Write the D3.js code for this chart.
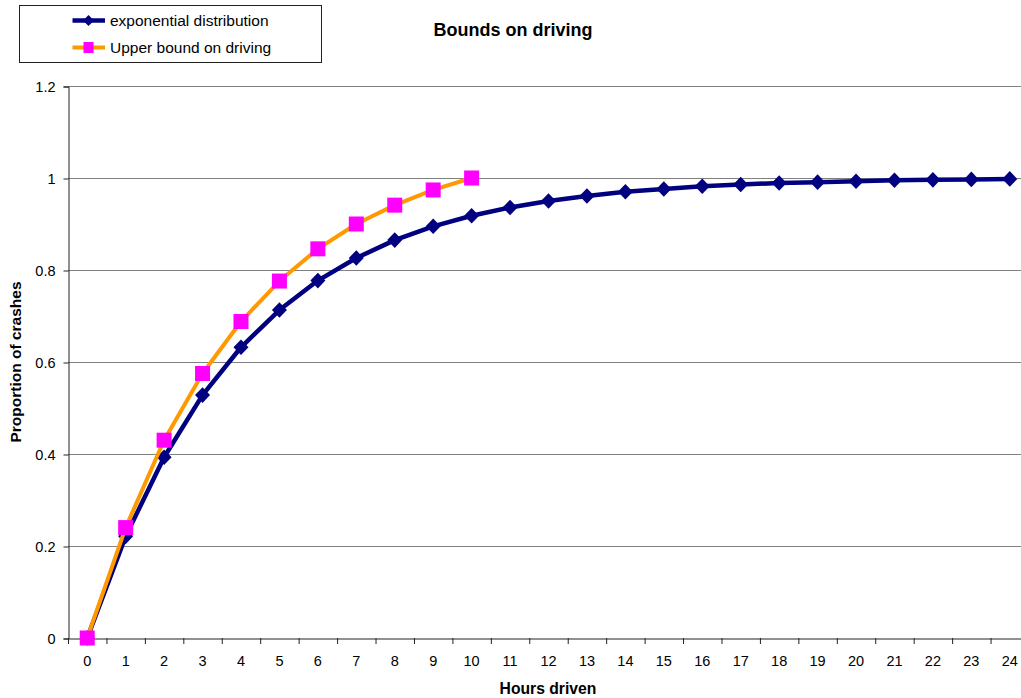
<!DOCTYPE html>
<html><head><meta charset="utf-8">
<script src="https://cdn.jsdelivr.net/npm/d3@7"></script>
<style>body{margin:0;background:#fff;} svg{display:block;font-family:"Liberation Sans",Arial,sans-serif;}</style>
</head><body>
<svg id="c" width="1021" height="698"></svg>
<script>
const categories = [0,1,2,3,4,5,6,7,8,9,10,11,12,13,14,15,16,17,18,19,20,21,22,23,24];
const exponentialValues = [0,0.221,0.393,0.528,0.632,0.713,0.777,0.826,0.865,0.895,0.918,0.936,0.950,0.961,0.970,0.976,0.982,0.986,0.989,0.991,0.993,0.995,0.996,0.997,0.998];
const upperBoundValues = [0,0.24,0.43,0.575,0.688,0.776,0.846,0.90,0.941,0.974,1.0];
const yTicks = [0,0.2,0.4,0.6,0.8,1,1.2];
const seriesNames = ["exponential distribution","Upper bound on driving"];

const FONT = "Liberation Sans, Arial, sans-serif";
const svg = d3.select("#c");
const x = d3.scaleBand().domain(categories).range([68,1029]).padding(0);
const y = d3.scaleLinear().domain([0,1.2]).range([638,86]);

// gridlines
svg.append("g").selectAll("line").data(yTicks.filter(d=>d>0)).join("line")
  .attr("x1",68).attr("x2",1030).attr("y1",d=>y(d)+0.5).attr("y2",d=>y(d)+0.5)
  .attr("stroke","#808080").attr("stroke-width",1);

// y axis
const yAxis = svg.append("g").attr("transform","translate(68.5,0.5)")
  .call(d3.axisLeft(y).tickValues(yTicks).tickSize(5).tickPadding(8).tickFormat(d=>String(d)));
yAxis.select(".domain").attr("stroke","#222");
yAxis.selectAll(".tick line").attr("stroke","#222");
yAxis.selectAll("text").attr("font-size",14.5).attr("fill","#000").attr("font-family",FONT);

// x axis
const xAxis = svg.append("g").attr("transform","translate(0,638.5)")
  .call(d3.axisBottom(x).tickSize(0).tickPadding(17));
xAxis.select(".domain").attr("stroke","#222");
xAxis.selectAll("text").attr("font-size",14.5).attr("fill","#000").attr("font-family",FONT);
// category separator ticks
svg.append("g").selectAll("line").data(categories.concat([25])).join("line")
  .attr("x1",(d,i)=>68.5+i*x.bandwidth()).attr("x2",(d,i)=>68.5+i*x.bandwidth())
  .attr("y1",638).attr("y2",644).attr("stroke","#222");

const cx = d=>x(d)+x.bandwidth()/2;
const line = d3.line().x((d,i)=>cx(categories[i])).y(d=>y(d));

// exponential series
svg.append("path").datum(exponentialValues).attr("d",line)
  .attr("fill","none").attr("stroke","#000080").attr("stroke-width",4.5).attr("stroke-linejoin","round");
svg.append("g").selectAll("path").data(exponentialValues).join("path")
  .attr("transform",(d,i)=>`translate(${cx(categories[i])},${y(d)})`)
  .attr("d","M0,-7.8L7.5,0L0,7.8L-7.5,0Z").attr("fill","#000080");

// upper bound series
svg.append("path").datum(upperBoundValues).attr("d",line)
  .attr("fill","none").attr("stroke","#FF9900").attr("stroke-width",4).attr("stroke-linejoin","round");
svg.append("g").selectAll("rect").data(upperBoundValues).join("rect")
  .attr("x",(d,i)=>cx(categories[i])-7.5).attr("y",d=>y(d)-7.5)
  .attr("width",15).attr("height",15).attr("fill","#FF00FF");

// title
svg.append("text").attr("x",513).attr("y",36).attr("text-anchor","middle")
  .attr("font-size",18).attr("font-weight","bold").text("Bounds on driving");
// axis titles
svg.append("text").attr("x",548).attr("y",694).attr("text-anchor","middle")
  .attr("font-size",15.7).attr("font-weight","bold").text("Hours driven");
svg.append("text").attr("transform","translate(21,362) rotate(-90)").attr("text-anchor","middle")
  .attr("font-size",15.5).attr("font-weight","bold").text("Proportion of crashes");

// legend
const lg = svg.append("g");
lg.append("rect").attr("x",19.5).attr("y",5.5).attr("width",302).attr("height",57)
  .attr("fill","#fff").attr("stroke","#222").attr("stroke-width",1);
const ly = [20.5,47.5];
lg.append("line").attr("x1",72.5).attr("x2",105).attr("y1",ly[0]).attr("y2",ly[0]).attr("stroke","#000080").attr("stroke-width",4.5);
lg.append("path").attr("transform",`translate(88.5,${ly[0]})`).attr("d","M0,-5.5L5.5,0L0,5.5L-5.5,0Z").attr("fill","#000080");
lg.append("line").attr("x1",72.5).attr("x2",105).attr("y1",ly[1]).attr("y2",ly[1]).attr("stroke","#FF9900").attr("stroke-width",4);
lg.append("rect").attr("x",83.5).attr("y",ly[1]-5.5).attr("width",10).attr("height",11).attr("fill","#FF00FF");
lg.selectAll("text").data(seriesNames).join("text")
  .attr("x",110).attr("y",(d,i)=>ly[i]+5.5).attr("font-size",15.5).text(d=>d);
</script>
</body></html>
